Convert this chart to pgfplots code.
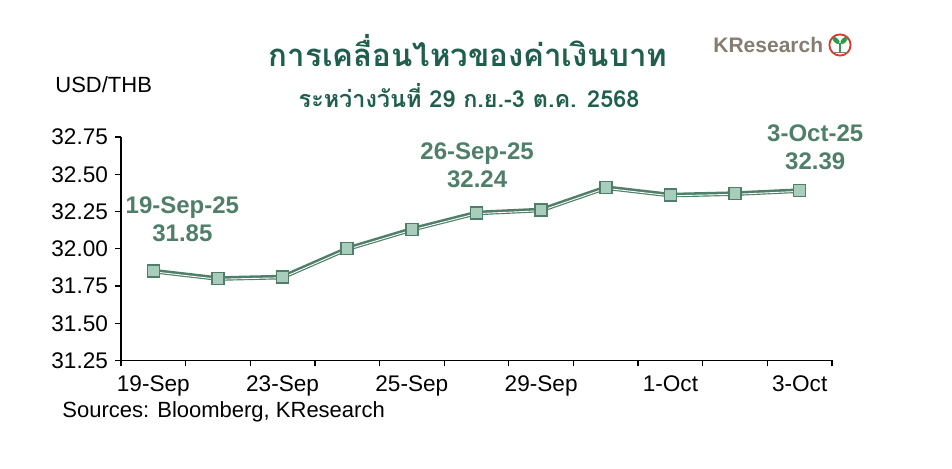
\documentclass[border=0pt]{standalone}
\usepackage{pgfplots}
\pgfplotsset{compat=1.18}
\usepackage{fontspec}
\setmainfont{Liberation Sans}
\newfontfamily\thaifont[Script=Thai]{Loma}
\definecolor{titlegreen}{HTML}{1F5F4C}
\definecolor{lgreen}{HTML}{4F7F69}
\definecolor{mfill}{HTML}{A9CDBD}
\definecolor{logogray}{HTML}{857C72}
\definecolor{logored}{HTML}{E0352B}
\definecolor{logoleaf}{HTML}{2E9B48}
\begin{document}
\begin{tikzpicture}[x=1pt,y=1pt]
\useasboundingbox (0,0) rectangle (476,234.5);
\begin{axis}[
  at={(60.5pt,54.25pt)}, anchor=south west,
  scale only axis, width=355.5pt, height=111.75pt,
  xmin=-0.5, xmax=10.5, ymin=31.25, ymax=32.75,
  axis x line*=bottom, axis y line*=left,
  axis line style={black, line width=0.6pt, -},
  tick align=outside, major tick length=3pt,
  tick style={black, line width=0.6pt},
  xtick={-0.5,0.5,1.5,2.5,3.5,4.5,5.5,6.5,7.5,8.5,9.5,10.5},
  xticklabels={},
  extra x ticks={0,2,4,6,8,10},
  extra x tick labels={19-Sep,23-Sep,25-Sep,29-Sep,1-Oct,3-Oct},
  extra x tick style={major tick length=0pt, tick label style={yshift=-4pt}},
  ytick={31.25,31.5,31.75,32,32.25,32.5,32.75},
  yticklabel style={/pgf/number format/.cd, fixed, fixed zerofill, precision=2},
  /pgf/number format/assume math mode=true,
  tick label style={font=\fontsize{11.3}{12}\selectfont},
  clip=false,
]
\addplot[lgreen, line width=2.3pt, line join=round] coordinates {
(0,31.85) (1,31.80) (2,31.81) (3,32.00) (4,32.13) (5,32.24) (6,32.26) (7,32.41) (8,32.36) (9,32.37) (10,32.39)};
\addplot[white, line width=0.45pt, yshift=-0.35pt, line join=round] coordinates {
(0,31.85) (1,31.80) (2,31.81) (3,32.00) (4,32.13) (5,32.24) (6,32.26) (7,32.41) (8,32.36) (9,32.37) (10,32.39)};
\addplot[only marks, mark=square*, mark size=3pt, mark options={draw=lgreen, fill=mfill, line width=0.75pt}] coordinates {
(0,31.85) (1,31.80) (2,31.81) (3,32.00) (4,32.13) (5,32.24) (6,32.26) (7,32.41) (8,32.36) (9,32.37) (10,32.39)};
\node[font=\bfseries\fontsize{12}{14}\selectfont, text=lgreen, align=center] at (axis cs:0.45,32.20) {19-Sep-25\\31.85};
\node[font=\bfseries\fontsize{12}{14}\selectfont, text=lgreen, align=center] at (axis cs:5.01,32.56) {26-Sep-25\\32.24};
\node[font=\bfseries\fontsize{12}{14}\selectfont, text=lgreen, align=center] at (axis cs:10.24,32.68) {3-Oct-25\\32.39};
\end{axis}
\node[font=\thaifont\bfseries\fontsize{15.6}{18}\selectfont, text=titlegreen, anchor=base] at (234,201) {การเคลื่อนไหวของค่าเงินบาท};
\node[font=\thaifont\bfseries\fontsize{11.7}{13}\selectfont, text=titlegreen, anchor=base] at (234.5,180.5) {ระหว่างวันที่ 29 ก.ย.-3 ต.ค. 2568};
\node[font=\fontsize{11}{12}\selectfont, anchor=west, inner sep=0pt] at (27.5,192) {USD/THB};
\node[font=\fontsize{11}{12}\selectfont, anchor=west, inner sep=0pt] at (31,28.5) {Sources: Bloomberg, KResearch};
% logo
\node[font=\bfseries\fontsize{10.5}{12}\selectfont, text=logogray, anchor=west, inner sep=0pt] at (356.5,212) {KResearch};
\fill[white] (420,212) circle (5.3pt);
\draw[logored, line width=0.9pt] (420,212) circle (5.3pt);
\fill[logoleaf, rotate around={-45:(418,214.3)}] (418,214.3) ellipse (2.3pt and 1.2pt);
\fill[logoleaf, rotate around={45:(422,214.3)}] (422,214.3) ellipse (2.3pt and 1.2pt);
\draw[logoleaf, line width=1pt] (420,208.6) -- (420,213);
\draw[logogray, line width=0.5pt] (416.5,208.4) -- (423.5,208.4);
\end{tikzpicture}
\end{document}
